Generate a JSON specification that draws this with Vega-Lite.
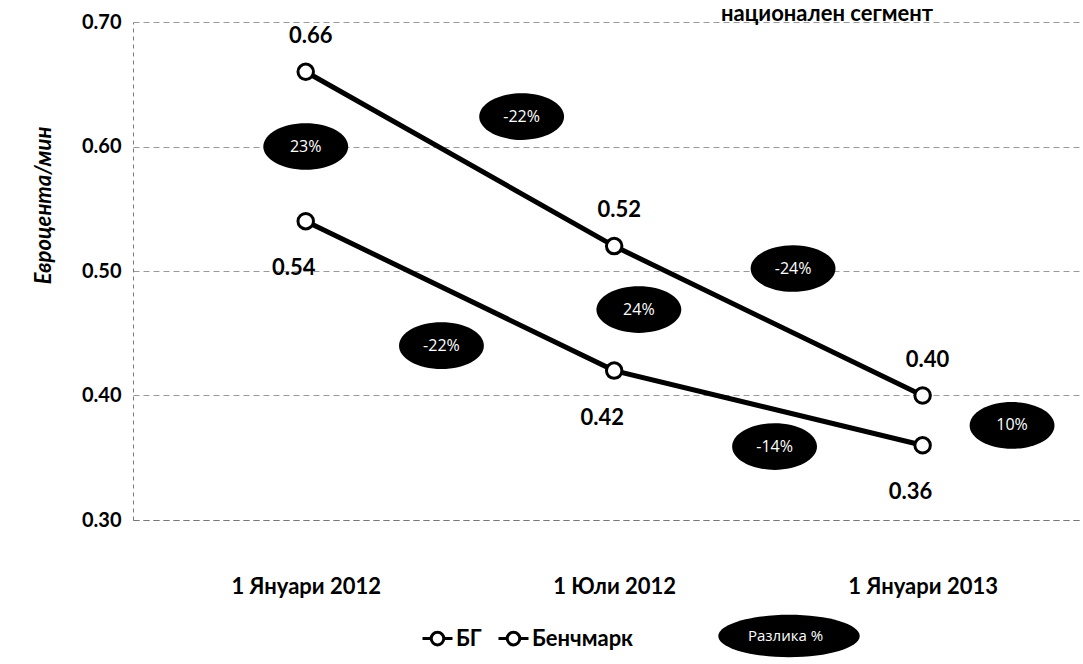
{
  "$schema": "https://vega.github.io/schema/vega-lite/v6.json",
  "width": 950,
  "height": 498,
  "autosize": {"type": "none"},
  "padding": {"left": 133, "top": 22, "right": 0, "bottom": 144},
  "background": "white",
  "title": {
    "text": "национален сегмент",
    "font": "Lato",
    "fontSize": 22,
    "fontWeight": "bold",
    "color": "black",
    "anchor": "middle",
    "dx": 219,
    "dy": 16,
    "offset": 2
  },
  "config": {
    "view": {"stroke": null},
    "font": "Lato"
  },
  "datasets": {
    "lines": [
      {"t": 0, "v": 0.66, "s": "БГ", "lab": "0.66"},
      {"t": 1, "v": 0.52, "s": "БГ", "lab": "0.52"},
      {"t": 2, "v": 0.40, "s": "БГ", "lab": "0.40"},
      {"t": 0, "v": 0.54, "s": "Бенчмарк", "lab": "0.54"},
      {"t": 1, "v": 0.42, "s": "Бенчмарк", "lab": "0.42"},
      {"t": 2, "v": 0.36, "s": "Бенчмарк", "lab": "0.36"}
    ],
    "diffs": [
      {"t": 0.0, "v": 0.600, "d": "Разлика %", "lab": "23%"},
      {"t": 0.70, "v": 0.624, "d": "Разлика %", "lab": "-22%"},
      {"t": 0.44, "v": 0.440, "d": "Разлика %", "lab": "-22%"},
      {"t": 1.08, "v": 0.469, "d": "Разлика %", "lab": "24%"},
      {"t": 1.58, "v": 0.502, "d": "Разлика %", "lab": "-24%"},
      {"t": 1.52, "v": 0.359, "d": "Разлика %", "lab": "-14%"},
      {"t": 2.29, "v": 0.376, "d": "Разлика %", "lab": "10%"}
    ]
  },
  "encoding": {
    "x": {
      "field": "t",
      "type": "quantitative",
      "scale": {"domain": [-0.56, 2.52], "nice": false, "zero": false},
      "axis": {
        "title": null,
        "values": [0, 1, 2],
        "labelExpr": "datum.value == 0 ? '1 Януари 2012' : datum.value == 1 ? '1 Юли 2012' : '1 Януари 2013'",
        "labelFont": "Lato",
        "labelFontSize": 22,
        "labelFontWeight": "bold",
        "labelColor": "black",
        "labelPadding": 56,
        "ticks": false,
        "grid": false,
        "domain": true,
        "domainColor": "#777",
        "domainDash": [6, 4],
        "domainWidth": 1
      }
    },
    "y": {
      "field": "v",
      "type": "quantitative",
      "scale": {"domain": [0.3, 0.7], "nice": false, "zero": false},
      "axis": {
        "title": "Евроцента/мин",
        "titleFont": "Lato",
        "titleFontSize": 22,
        "titleFontWeight": "bold",
        "titleFontStyle": "italic",
        "titleColor": "black",
        "titleX": -78,
        "titleY": 183,
        "titleAlign": "center",
        "values": [0.3, 0.4, 0.5, 0.6, 0.7],
        "format": ".2f",
        "labelFont": "Lato",
        "labelFontSize": 20,
        "labelFontWeight": "bold",
        "labelColor": "black",
        "labelPadding": 12,
        "ticks": false,
        "grid": true,
        "gridColor": "#999",
        "gridDash": [6, 4],
        "gridWidth": 1,
        "domain": true,
        "domainColor": "#777",
        "domainDash": [4, 4],
        "domainWidth": 1
      }
    }
  },
  "layer": [
    {
      "data": {"name": "lines"},
      "mark": {"type": "line", "strokeWidth": 5},
      "encoding": {
        "color": {
          "field": "s",
          "type": "nominal",
          "scale": {"domain": ["БГ", "Бенчмарк"], "range": ["black", "black"]},
          "legend": {
            "title": null,
            "orient": "none",
            "direction": "horizontal",
            "legendX": 288,
            "legendY": 600,
            "columnPadding": 10,
            "symbolType": "M-1,0L-0.42,0M0.42,0L1,0M0.42,0A0.42,0.42,0,1,1,-0.42,0A0.42,0.42,0,1,1,0.42,0Z",
            "symbolSize": 900,
            "symbolStrokeWidth": 3,
            "symbolFillColor": "white",
            "symbolStrokeColor": "black",
            "labelFont": "Lato",
            "labelFontSize": 22,
            "labelFontWeight": "bold",
            "labelColor": "black",
            "labelOffset": 2,
            "encode": {
              "symbols": {
                "update": {
                  "fill": {"value": "white"},
                  "stroke": {"value": "black"},
                  "strokeWidth": {"value": 3},
                  "opacity": {"value": 1}
                }
              }
            }
          }
        }
      }
    },
    {
      "data": {"name": "lines"},
      "mark": {"type": "point", "filled": false, "fill": "white", "stroke": "black", "strokeWidth": 3, "size": 240, "opacity": 1, "fillOpacity": 1}
    },
    {
      "data": {"name": "lines"},
      "transform": [{"filter": "datum.s === 'БГ'"}],
      "mark": {"type": "text", "font": "Lato", "fontSize": 22, "fontWeight": "bold", "color": "black", "dy": -36, "dx": 5},
      "encoding": {"text": {"field": "lab"}}
    },
    {
      "data": {"name": "lines"},
      "transform": [{"filter": "datum.s === 'Бенчмарк'"}],
      "mark": {"type": "text", "font": "Lato", "fontSize": 22, "fontWeight": "bold", "color": "black", "dy": 47, "dx": -12},
      "encoding": {"text": {"field": "lab"}}
    },
    {
      "data": {"name": "diffs"},
      "mark": {"type": "point", "filled": true, "color": "black", "opacity": 1, "size": 7200, "shape": "M-1,0A1,0.55,0,1,1,1,0A1,0.55,0,1,1,-1,0Z"}
    },
    {
      "data": {"name": "diffs"},
      "transform": [{"filter": "datum.t > 100"}],
      "mark": {"type": "point", "filled": true, "color": "black", "opacity": 1, "size": 20000},
      "encoding": {
        "shape": {
          "field": "d",
          "type": "nominal",
          "scale": {"domain": ["Разлика %"], "range": ["M-1,0A1,0.3,0,1,1,1,0A1,0.3,0,1,1,-1,0Z"]},
          "legend": {
            "title": null,
            "orient": "none",
            "direction": "horizontal",
            "legendX": 585,
            "legendY": 543,
            "symbolSize": 20000,
            "symbolFillColor": "black",
            "symbolStrokeColor": "black",
            "symbolStrokeWidth": 0,
            "labelFont": "Open Sans",
            "labelFontSize": 15,
            "labelColor": "white",
            "labelOffset": -112,
            "encode": {
              "symbols": {
                "update": {
                  "size": {"value": 20000},
                  "fill": {"value": "black"},
                  "opacity": {"value": 1}
                }
              }
            }
          }
        }
      }
    },
    {
      "data": {"name": "diffs"},
      "mark": {"type": "text", "font": "Open Sans", "fontSize": 16, "color": "white"},
      "encoding": {"text": {"field": "lab"}}
    }
  ]
}
